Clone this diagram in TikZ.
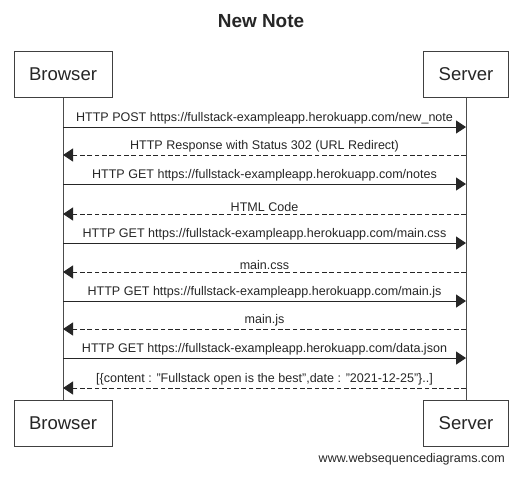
\documentclass[tikz,border=0pt]{standalone}
\usepackage{fontspec}
\setmainfont{Liberation Sans}
\usetikzlibrary{positioning, arrows.meta}

\begin{document}
\begin{tikzpicture}[x=0.75pt, y=-0.75pt, on grid,
    font=\fontsize{9.4}{11}\selectfont, text=black!85,
    actor/.style={draw=black!75, fill=white, line width=0.75pt, inner sep=0pt,
      minimum height=34.5pt, font=\fontsize{13.9}{16}\selectfont},
    msg/.style={draw=black!85, line width=0.75pt, -{Triangle[length=7.5pt, width=9.8pt]}},
    reply/.style={msg, dash pattern=on 3.5pt off 2pt},
    lbl/.style={above, inner sep=1.6pt}]
   \useasboundingbox (0,0) rectangle (524,479);

   % Title
   \node[font=\fontsize{14.2}{16}\bfseries] (title) at (261,21.5) {New Note};

   % Participants, top and bottom
   \node[actor, minimum width=73.5pt] (browser) at (63,74.5) {Browser};
   \node[actor, minimum width=63.75pt] (server) [right=302.25pt of browser] {Server};
   \node[actor, minimum width=73.5pt] (browserEnd) [below=261.4pt of browser] {Browser};
   \node[actor, minimum width=63.75pt] (serverEnd) [below=261.4pt of server] {Server};

   % Lifelines
   \draw[black!70, line width=0.75pt] (browser.south) -- (browserEnd.north);
   \draw[black!70, line width=0.75pt] (server.south) -- (serverEnd.north);

   % Points on the lifelines
   \coordinate (b1) at (63,127);  \coordinate (s1) at (466,127);
   \coordinate (b2) at (63,155);  \coordinate (s2) at (466,155);
   \coordinate (b3) at (63,184);  \coordinate (s3) at (466,184);
   \coordinate (b4) at (63,214);  \coordinate (s4) at (466,214);
   \coordinate (b5) at (63,243);  \coordinate (s5) at (466,243);
   \coordinate (b6) at (63,272);  \coordinate (s6) at (466,272);
   \coordinate (b7) at (63,301);  \coordinate (s7) at (466,301);
   \coordinate (b8) at (63,329);  \coordinate (s8) at (466,329);
   \coordinate (b9) at (63,358);  \coordinate (s9) at (466,358);
   \coordinate (b10) at (63,388); \coordinate (s10) at (466,388);

   % Messages
   \path
    (b1) edge[msg] node[lbl] {HTTP POST https://fullstack-exampleapp.herokuapp.com/new\_note} (s1)
    (s2) edge[reply] node[lbl] {HTTP Response with Status 302 (URL Redirect)} (b2)
    (b3) edge[msg] node[lbl] {HTTP GET https://fullstack-exampleapp.herokuapp.com/notes} (s3)
    (s4) edge[reply] node[lbl] {HTML Code} (b4)
    (b5) edge[msg] node[lbl] {HTTP GET https://fullstack-exampleapp.herokuapp.com/main.css} (s5)
    (s6) edge[reply] node[lbl] {main.css} (b6)
    (b7) edge[msg] node[lbl] {HTTP GET https://fullstack-exampleapp.herokuapp.com/main.js} (s7)
    (s8) edge[reply] node[lbl] {main.js} (b8)
    (b9) edge[msg] node[lbl] {HTTP GET https://fullstack-exampleapp.herokuapp.com/data.json} (s9)
    (s10) edge[reply] node[lbl] {[\{content : "Fullstack open is the best",date : "2021-12-25"\}..]} (b10);

   % Watermark
   \node[anchor=base east, inner sep=0pt] (site) at (505,462) {www.websequencediagrams.com};
\end{tikzpicture}
\end{document}
